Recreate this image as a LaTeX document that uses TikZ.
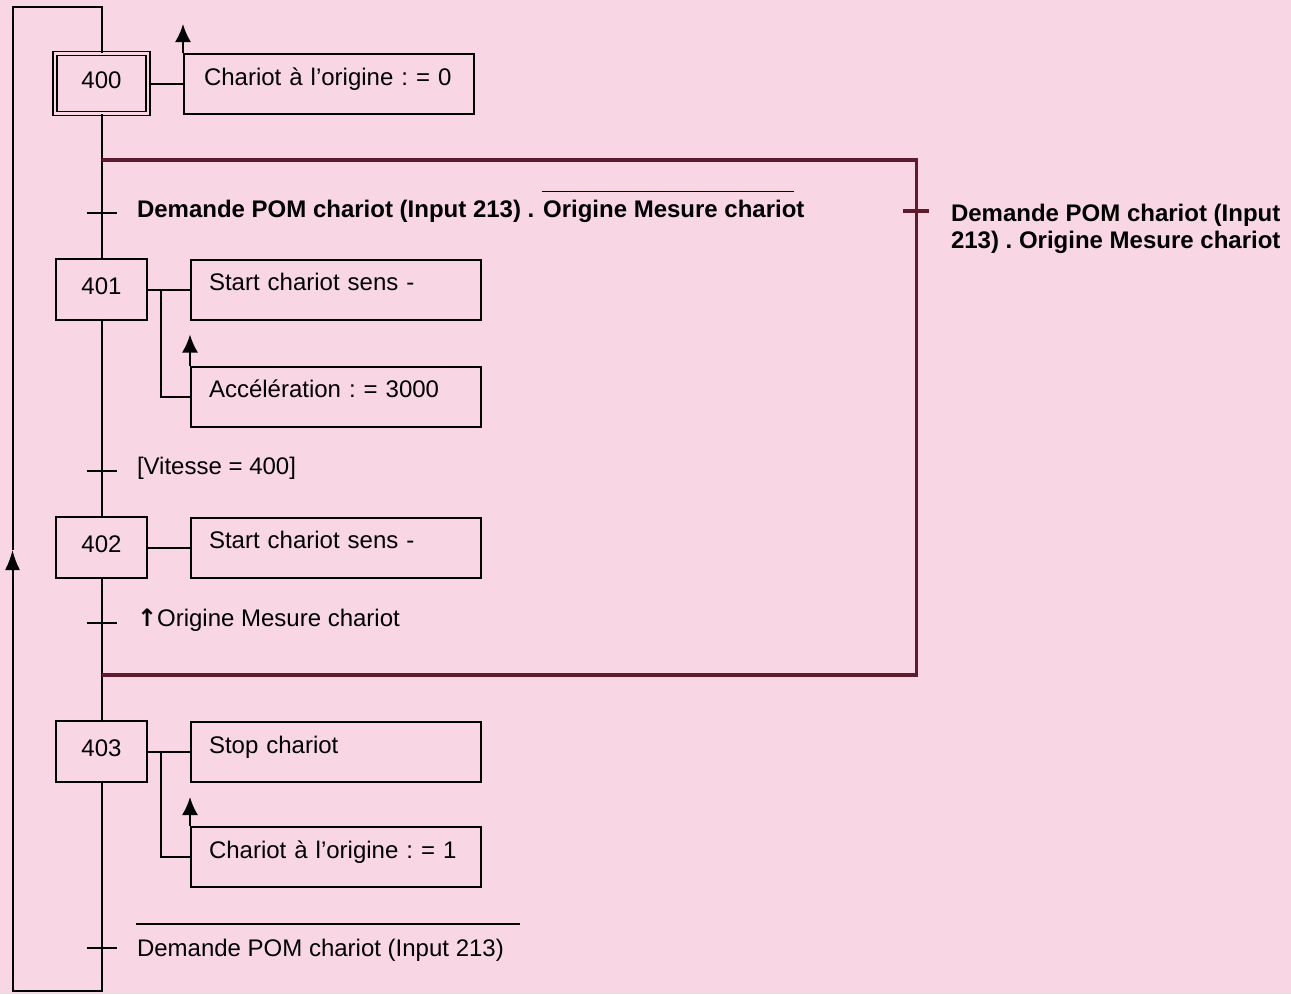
\documentclass[tikz,border=0pt]{standalone}
\usepackage{fontspec}
\setmainfont{Liberation Sans}
\newfontfamily\flechefont{DejaVu Sans}
\usepackage{tikz}
\usetikzlibrary{arrows.meta}
\definecolor{Fond}{RGB}{248,214,228}
\definecolor{Bordeaux}{RGB}{96,26,46}
\newcommand\taille{\fontsize{24}{27}\selectfont\frenchspacing}

\begin{document}
\begin{tikzpicture}[x=1pt, y=-1pt, line width=2pt, font=\taille,
  etape/.style={draw, rectangle, minimum width=91pt, minimum height=61pt,
    inner sep=0pt, text height=17pt, text depth=7pt},
  action/.style={draw, rectangle, minimum width=290pt, minimum height=60pt,
    text width=254pt, align=left, inner xsep=18pt, inner ysep=0pt,
    text height=17pt, text depth=15pt},
  recep/.style={anchor=base west, inner sep=0pt},
  trans/.style={line width=2pt},
  memo/.style={-{Latex[length=18pt,width=16pt]}},
  retour/.style={-{Latex[length=20pt,width=15pt]}},
  enveloppe/.style={draw=Bordeaux, line width=3.5pt},
]
\fill[Fond] (0,0) rectangle (1291,994);
\useasboundingbox (0,0) rectangle (1291,994);
%%
\node (e400) at (101.5,83.5)
  [etape, double=Fond, double distance=2.5pt, line width=1.6pt,
   minimum width=93pt, minimum height=60pt] {400};
\node (e401) at (101.5,289.5) [etape] {401};
\node (e402) at (101.5,547.5) [etape] {402};
\node (e403) at (101.5,751.5) [etape] {403};

\node (a400) at (329,84) [action, inner xsep=20pt, text width=250pt] {Chariot à l'origine : = 0};
\node (a401) at (336,289.5) [action] {Start chariot sens -};
\node (a401b) at (336,396.5) [action] {Accélération : = 3000};
\node (a402) at (336,547.5) [action] {Start chariot sens -};
\node (a403) at (336,752) [action] {Stop chariot};
\node (a403b) at (336,857) [action] {Chariot à l'origine : = 1};

\coordinate (haut) at (101.5,7);
\coordinate (coin_hg) at (12.5,7);
\coordinate (fleche) at (12.5,550);
\coordinate (coin_bg) at (12.5,991);
\coordinate (bas) at (101.5,991);
\coordinate (b401) at (161,289.5);
\coordinate (b403) at (161,752);
\coordinate (t1) at (101.5,213);
\coordinate (t2) at (101.5,471);
\coordinate (t3) at (101.5,623);
\coordinate (t4) at (101.5,948);

% sequence
\draw (e400) -- (e401);
\draw (e401) -- (e402);
\draw (e402) -- (e403);
\draw[retour] (e403) -- (bas) -- (coin_bg) -- (fleche);
\draw (fleche) -- (coin_hg) -- (haut) -- (e400);

% transitions
\foreach \t in {t1,t2,t3,t4}
  \draw[trans] ([xshift=-15pt]\t) -- ([xshift=15pt]\t);

\node (c1) at (136,217) [recep, font=\taille\bfseries]
  {Demande POM chariot (Input 213) .};
\node (c1b) at ([xshift=6.7pt]c1.base east) [recep, font=\taille\bfseries]
  {Origine Mesure chariot};
\draw[line width=1.6pt] ([yshift=7pt]c1b.north west) -- ([yshift=7pt,xshift=-12pt]c1b.north east);
\node (c2) at (136,474) [recep] {[Vitesse = 400]};
\node (c3) at (136,626) [recep]
  {{\flechefont\bfseries ↑}Origine Mesure chariot};
\node (c4) at (136,956) [recep] {Demande POM chariot (Input 213)};
\draw[line width=1.6pt] ([yshift=13.5pt]c4.north west)
  -- ([yshift=13.5pt,xshift=15pt]c4.north east);

% actions
\draw (e400.east) -- (e400.east -| a400.west);
\draw[memo] (a400.north west) -- ([yshift=29pt]a400.north west);
\draw (e401.east) -- (a401.west);
\draw (b401) |- (a401b.west);
\draw[memo] (a401b.north west) -- ([yshift=31pt]a401b.north west);
\draw (e402.east) -- (a402.west);
\draw (e403.east) -- (e403.east -| a403.west);
\draw (b403) |- (a403b.west);
\draw[memo] (a403b.north west) -- ([yshift=29pt]a403b.north west);

% macro-etape
\draw[enveloppe] (101.5,160) -| (916.5,675) -- (101.5,675);
\draw[enveloppe] (903,211) -- (929,211);
\node (c1d) at (950,203.5)
  [anchor=north west, inner sep=0pt, align=left, font=\taille\bfseries]
  {Demande POM chariot (Input\\213) . Origine Mesure chariot};
\end{tikzpicture}
\end{document}
